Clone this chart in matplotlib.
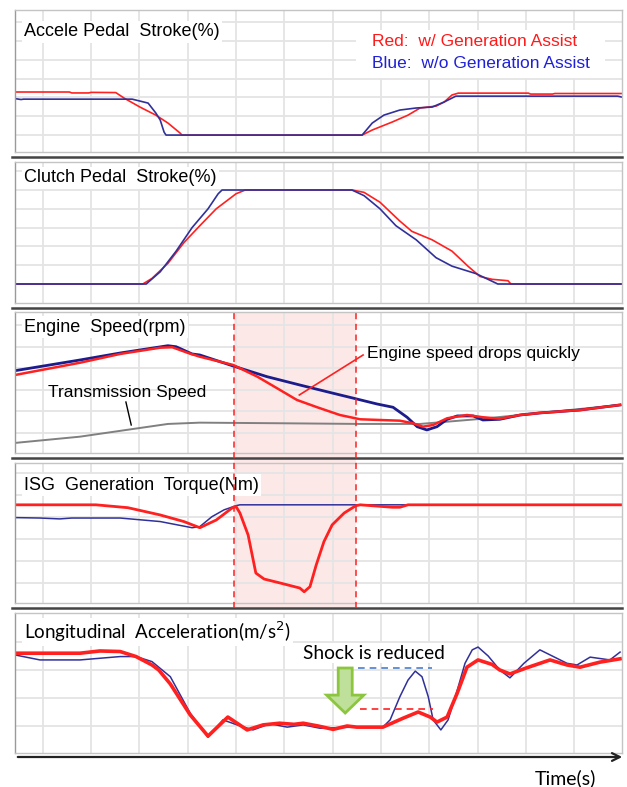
import matplotlib
matplotlib.use('Agg')
import matplotlib.pyplot as plt
import matplotlib.transforms as mtransforms
from matplotlib.lines import Line2D
from matplotlib.patches import Rectangle, FancyArrow, FancyArrowPatch

plt.rcParams['font.family'] = ['Liberation Sans', 'DejaVu Sans']

W, H = 627, 787
RED = '#ff2020'
BLUE = '#30309a'

# --- accelerator pedal stroke (%)
acc_red_t = [-0.58, 0.55, 0.6, 0.95, 1.0, 1.51, 1.68, 2.01, 2.34, 2.59, 2.84, 2.88,
             6.61, 6.82, 7.23, 7.56, 7.81, 8.14, 8.31, 8.47, 8.60, 10.05, 10.1, 10.55, 10.6, 11.99]
acc_red = [22.9, 22.9, 22.4, 22.4, 22.7, 22.6, 19.7, 14.9, 10.6, 6.4, 1.1, 0,
           0, 2.7, 6.9, 10.6, 14.4, 15.4, 17.6, 21.3, 22.3, 22.3, 21.8, 21.8, 22.1, 22.1]
acc_blue_t = [-0.58, -0.45, -0.4, 0.3, 0.35, 1.85, 2.18, 2.34, 2.43, 2.51, 2.55,
              6.61, 6.82, 7.06, 7.39, 7.73, 8.06, 8.31, 8.55, 11.9, 11.99]
acc_blue = [19.4, 18.9, 19.1, 19.1, 19.1, 19.1, 17.0, 11.7, 8.0, 1.6, 0,
            0, 6.4, 10.6, 13.3, 14.4, 14.9, 17.6, 20.7, 20.7, 20.2]

# --- clutch pedal stroke (%)
clu_red_t = [-0.58, 2.07, 2.26, 2.59, 2.92, 3.25, 3.59, 4.00, 4.19, 6.40, 6.65, 6.98,
             7.39, 7.64, 8.06, 8.47, 8.80, 9.05, 9.30, 9.63, 9.69, 11.99]
clu_red = [0, 0, 6, 22, 44, 62, 80, 96, 100, 100, 97.5, 87,
           67, 56, 47, 35, 19, 8, 5, 3.5, 0, 0]
clu_blue_t = [-0.58, 2.14, 2.43, 2.76, 3.09, 3.42, 3.63, 3.71, 6.40, 6.65, 6.98,
              7.31, 7.73, 8.14, 8.47, 8.97, 9.42, 11.99]
clu_blue = [0, 0, 13, 35, 60, 80, 96, 100, 100, 94, 80,
            62, 47, 28, 19, 11, 0, 0]

# --- engine / transmission speed (rpm)
eng_blue_t = [-0.58, 0.77, 1.60, 2.59, 2.76, 3.09, 3.25, 3.94, 4.64, 5.32, 6.01, 6.50,
              6.92, 7.25, 7.54, 7.75, 7.95, 8.16, 8.37, 8.58, 8.91, 9.11, 9.46, 9.88,
              10.29, 11.12, 11.95]
eng_blue = [1724, 1849, 1930, 2015, 2003, 1919, 1907, 1779, 1655, 1558, 1462, 1395,
            1337, 1299, 1183, 1073, 1035, 1073, 1159, 1198, 1198, 1151, 1159, 1209,
            1233, 1267, 1326]
eng_red_t = [-0.58, 0.77, 1.60, 2.43, 2.68, 3.01, 3.25, 3.94, 4.44, 4.85, 5.26, 5.68,
             6.15, 6.57, 7.39, 7.66, 7.87, 8.08, 8.37, 8.78, 9.11, 9.46, 9.88, 10.29,
             11.12, 11.95]
eng_red = [1674, 1817, 1919, 1992, 1997, 1930, 1887, 1791, 1655, 1520, 1384, 1299,
           1209, 1159, 1143, 1113, 1073, 1093, 1171, 1209, 1183, 1166, 1209, 1233,
           1267, 1326]
tm_t = [-0.58, 0.77, 2.01, 2.59, 3.25, 4.91, 6.57, 7.81, 9.05, 9.88, 11.95]
tm_speed = [884, 957, 1058, 1105, 1120, 1113, 1105, 1105, 1163, 1209, 1326]

# --- ISG generation torque (Nm)
isg_red_t = [-0.58, 1.10, 1.76, 2.43, 2.92, 3.25, 3.59, 3.92, 4.00, 4.08, 4.25, 4.41,
             4.58, 4.91, 5.32, 5.41, 5.53, 5.66, 5.82, 5.99, 6.24, 6.48, 6.57, 7.23,
             7.39, 7.56, 11.99]
isg_red = [5.5, 5.5, 4.2, 0.9, -2.1, -4.9, -1.4, 4.1, 4.7, 1.8, -8.2, -25.5,
           -28.2, -30.0, -32.3, -34.0, -31.7, -21.8, -11.2, -3.6, 1.8, 5.1, 5.5, 4.4,
           4.4, 5.5, 5.5]
isg_blue_t = [-0.58, -0.06, 0.35, 0.6, 1.60, 2.43, 3.09, 3.25, 3.50, 3.75, 4.00, 4.08, 11.99]
isg_blue = [-0.3, -0.5, -0.9, -0.5, -0.5, -2.1, -4.9, -4.4, 0.1, 3.2, 5.1, 5.5, 5.5]

# --- longitudinal acceleration (m/s^2)
lon_red_t = [-0.58, 0.77, 1.18, 1.60, 1.93, 2.26, 2.40, 2.64, 3.05, 3.42, 3.83, 4.23,
             4.56, 4.90, 5.20, 5.39, 5.70, 6.01, 6.30, 6.50, 7.04, 7.46, 7.77, 8.02,
             8.16, 8.37, 8.58, 8.78, 9.01, 9.30, 9.46, 9.67, 10.02, 10.50, 10.85, 11.12,
             11.53, 11.95]
lon_red = [0.80, 0.80, 0.84, 0.83, 0.74, 0.59, 0.50, 0.25, -0.30, -0.68, -0.34, -0.57,
           -0.48, -0.45, -0.47, -0.45, -0.50, -0.56, -0.50, -0.52, -0.52, -0.36, -0.25, -0.34,
           -0.43, -0.34, 0.09, 0.55, 0.68, 0.60, 0.50, 0.43, 0.54, 0.68, 0.59, 0.55,
           0.64, 0.70]
lon_blue_t = [-0.58, -0.06, 0.77, 1.60, 1.93, 2.26, 2.64, 3.05, 3.42, 3.73, 4.02, 4.35,
              4.70, 5.06, 5.39, 5.74, 6.09, 6.42, 7.04, 7.19, 7.39, 7.56, 7.71, 7.85,
              7.98, 8.08, 8.24, 8.39, 8.58, 8.74, 8.89, 9.01, 9.22, 9.46, 9.67, 9.96,
              10.29, 10.85, 11.06, 11.33, 11.74, 11.95]
lon_blue = [0.77, 0.68, 0.68, 0.74, 0.74, 0.65, 0.38, -0.27, -0.70, -0.39, -0.48, -0.57,
            -0.46, -0.52, -0.48, -0.54, -0.53, -0.52, -0.52, -0.39, 0.02, 0.32, 0.48, 0.38,
            0.02, -0.39, -0.57, -0.39, 0.14, 0.62, 0.86, 0.91, 0.75, 0.50, 0.36, 0.62,
            0.86, 0.62, 0.59, 0.73, 0.68, 0.82]

shade_window = [3.96, 6.48]
shock_blue_level = 0.536
shock_red_level = -0.19

titles = ['Accele Pedal  Stroke(%)', 'Clutch Pedal  Stroke(%)', 'Engine  Speed(rpm)',
          'ISG  Generation  Torque(Nm)', 'Longitudinal  Acceleration(m/s$^2$)']


def rect(top, bottom, left=15, right=622):
    return [left / W, 1 - bottom / H, (right - left) / W, (bottom - top) / H]


fig = plt.figure(figsize=(W / 100, H / 100), dpi=100)

# top, bottom (px), ylim, yticks
panels = [
    (10, 152, (-9.0, 66.5), range(0, 70, 10)),
    (162, 303, (-20.2, 129.8), range(-0, 140, 20)),
    (312, 453, (767, 2407), range(1000, 2500, 250)),
    (463, 603, (-39.1, 24.5), range(-30, 30, 10)),
    (613, 753, (-0.982, 1.518), [-0.5, 0, 0.5, 1.0]),
]
title_y = [32, 178, 327, 485, 632]
title_size = [13, 13, 13, 13, 13.5]

axes = []
for i, (top, bot, ylim, yt) in enumerate(panels):
    ax = fig.add_axes(rect(top, bot))
    ax.set_facecolor('none')
    ax.set_xlim(-0.576, 11.99)
    ax.set_ylim(*ylim)
    ax.set_xticks(range(0, 12))
    ax.set_yticks(list(yt))
    ax.grid(color='#e4e4e4', lw=1.3)
    ax.set_axisbelow(True)
    ax.tick_params(length=0, labelbottom=False, labelleft=False)
    for s in ax.spines.values():
        s.set_color('#c4c4c4')
        s.set_linewidth(1.0)
    ax.spines['left'].set_color('#9a9a9a')
    fam = ['Lato', 'DejaVu Sans'] if i == 4 else ['Liberation Sans', 'DejaVu Sans']
    ax.text(24 / W, 1 - title_y[i] / H, titles[i], transform=fig.transFigure,
            fontsize=title_size[i], family=fam, va='center', ha='left', zorder=6,
            bbox=dict(facecolor='white', edgecolor='none', pad=1.5))
    axes.append(ax)
    # dark separator under each panel
    if i < 4:
        yy = 1 - (bot + 5) / H
        fig.add_artist(Line2D([12 / W, 622 / W], [yy, yy], color='#444444', lw=1.8, zorder=3))

ax1, ax2, ax3, ax4, ax5 = axes

# panel 1
ax1.plot(acc_red_t, acc_red, color=RED, lw=1.2)
ax1.plot(acc_blue_t, acc_blue, color=BLUE, lw=1.2)
ax1.add_patch(Rectangle((6.48, 30.3), 5.16, 25.6, facecolor='white', edgecolor='none', zorder=4))
ax1.text(6.82, 50.0, 'Red:  w/ Generation Assist', color='#ff1a1a', fontsize=12.5,
         va='center', ha='left', zorder=5)
ax1.text(6.82, 38.3, 'Blue:  w/o Generation Assist', color='#2020d8', fontsize=12.5,
         va='center', ha='left', zorder=5)

# panel 2
ax2.plot(clu_red_t, clu_red, color=RED, lw=1.2)
ax2.plot(clu_blue_t, clu_blue, color=BLUE, lw=1.2)

# panel 3
ax3.plot(tm_t, tm_speed, color='#808080', lw=1.4)
ax3.plot(eng_blue_t, eng_blue, color='#1c1c8c', lw=2.0)
ax3.plot(eng_red_t, eng_red, color=RED, lw=1.8)
ax3.text(0.11, 1465, 'Transmission Speed', fontsize=12.5, va='center', ha='left')
ax3.plot([1.72, 1.83], [1360, 1093], color='black', lw=1.0)
ax3.text(6.71, 1930, 'Engine speed drops quickly', fontsize=12.5, va='center', ha='left')
ax3.plot([6.63, 5.31], [1907, 1442], color=RED, lw=1.2)

# panel 4
ax4.plot(isg_blue_t, isg_blue, color=BLUE, lw=1.1)
ax4.plot(isg_red_t, isg_red, color=RED, lw=2.0)

# panel 5
ax5.plot(lon_blue_t, lon_blue, color=BLUE, lw=1.1)
ax5.plot(lon_red_t, lon_red, color=RED, lw=2.6)
ax5.plot([6.53, 8.06], [shock_blue_level] * 2, color='#4a7fd0', lw=1.2, ls=(0, (4, 3)))
ax5.plot([6.57, 8.08], [shock_red_level] * 2, color=RED, lw=1.2, ls=(0, (4, 3)))
ax5.add_patch(FancyArrow(6.26, 0.536, 0, -0.804, width=0.29, head_width=0.77,
                         head_length=0.32, length_includes_head=True,
                         facecolor='#bfe09a', edgecolor='#8cc63f', lw=2, zorder=5))
ax5.text(5.39, 0.80, 'Shock is reduced', family=['Lato', 'DejaVu Sans'], fontsize=13.8,
         va='center', ha='left', zorder=6,
         bbox=dict(facecolor='white', edgecolor='none', pad=1))

# shaded window across panels 3-4
tr = mtransforms.blended_transform_factory(ax3.transData, fig.transFigure)
y_lo, y_hi = 1 - 608 / H, 1 - 312 / H
fig.add_artist(Rectangle((shade_window[0], y_lo), shade_window[1] - shade_window[0],
                         y_hi - y_lo, transform=tr, facecolor='#fde8e8',
                         edgecolor='none', zorder=-1))
for xv in shade_window:
    fig.add_artist(Line2D([xv, xv], [y_lo, y_hi], transform=tr, color=RED,
                          lw=1.1, ls=(0, (4, 3)), zorder=5))

# time axis arrow
fig.add_artist(FancyArrowPatch((15 / W, 1 - 757 / H), (625 / W, 1 - 757 / H),
                               transform=fig.transFigure, arrowstyle='->',
                               mutation_scale=14, color='#222222', lw=1.6))
fig.text(535 / W, 1 - 778 / H, 'Time(s)', family=['Lato', 'DejaVu Sans'],
         fontsize=14, va='center', ha='left')

fig.savefig('out.png', dpi=100, facecolor='white')
